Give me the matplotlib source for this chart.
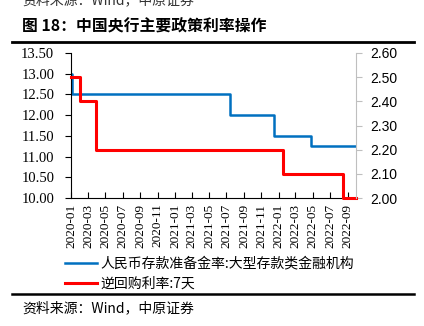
import matplotlib
matplotlib.use("Agg")
import matplotlib.pyplot as plt
import pandas as pd
from matplotlib.lines import Line2D

plt.rcParams['font.family'] = ['Noto Sans CJK SC', 'DejaVu Sans']

# RRR for large deposit institutions (%), step changes
rrr_dates = ["2020-01-01", "2020-01-06", "2021-07-15", "2021-12-15", "2022-04-25", "2022-09-30"]
rrr_values = [13.00, 12.50, 12.00, 11.50, 11.25, 11.25]

# 7-day reverse repo rate (%), step changes
repo_dates = ["2020-01-01", "2020-02-03", "2020-03-30", "2022-01-17", "2022-08-15", "2022-09-30"]
repo_values = [2.50, 2.40, 2.20, 2.10, 2.00, 2.00]

tick_months = pd.date_range("2020-01-01", "2022-09-01", freq="2MS")

rrr_label = "人民币存款准备金率:大型存款类金融机构"
repo_label = "逆回购利率:7天"
title = "图 18：中国央行主要政策利率操作"
source = "资料来源：Wind，中原证券"

blue = "#0070C0"
red = "#FF0000"

fig = plt.figure(figsize=(4.24, 3.26), dpi=100)
ax = fig.add_axes([71 / 424, 128 / 326, 285 / 424, 145 / 326])
ax2 = ax.twinx()

ax.plot(pd.to_datetime(rrr_dates), rrr_values, drawstyle="steps-post", color=blue, lw=1.8)
ax2.plot(pd.to_datetime(repo_dates), repo_values, drawstyle="steps-post", color=red, lw=2.2,
         clip_on=False)

ax.set_xlim(pd.Timestamp("2020-01-01"), pd.Timestamp("2022-09-30"))
ax.set_ylim(10.0, 13.5)
ax.set_yticks([10.0, 10.5, 11.0, 11.5, 12.0, 12.5, 13.0, 13.5])
ax.set_yticklabels([f"{v:.2f}" for v in ax.get_yticks()], family="Liberation Serif", fontsize=10.5)
ax2.set_ylim(2.0, 2.6)
ax2.set_yticks([2.0, 2.1, 2.2, 2.3, 2.4, 2.5, 2.6])
ax2.set_yticklabels([f"{v:.2f}" for v in ax2.get_yticks()], family="Liberation Sans", fontsize=10)

ax.set_xticks(tick_months)
ax.set_xticklabels([d.strftime("%Y-%m") for d in tick_months], rotation=90,
                   family="Liberation Serif", fontsize=9.5)
ax.tick_params(axis="x", direction="in", length=4, width=0.8, pad=4)
ax.tick_params(axis="y", direction="out", length=4, width=0.8, pad=8)
ax2.tick_params(axis="y", direction="out", length=4, width=0.8, color="#bfbfbf", pad=6)

for a in (ax, ax2):
    a.spines["top"].set_visible(False)
ax.spines["right"].set_visible(False)
ax2.spines["left"].set_visible(False)
ax2.spines["bottom"].set_visible(False)
ax2.spines["right"].set_color("#bfbfbf")
ax.spines["left"].set_linewidth(0.8)
ax.spines["bottom"].set_linewidth(0.8)

# legend under the axis
handles = [Line2D([], [], color=blue, lw=1.8), Line2D([], [], color=red, lw=2.2)]
fig.legend(handles, [rrr_label, repo_label], loc="upper left",
           bbox_to_anchor=(59 / 424, 1 - 251 / 326), frameon=False, fontsize=10,
           handlelength=2.3, handletextpad=0.3, labelspacing=0.45, borderaxespad=0)

fig.text(22 / 424, 1 - 26 / 326, title, fontsize=11.4, fontweight="bold", va="center")
fig.text(22 / 424, 1 - 308 / 326, source, fontsize=10, va="center")
fig.text(22 / 424, 1 - 0 / 326, source, fontsize=10, va="center", color="#333333")
fig.add_artist(Line2D([12 / 424, 414 / 424], [1 - 42 / 326] * 2, color="black", lw=2))
fig.add_artist(Line2D([12 / 424, 414 / 424], [1 - 294 / 326] * 2, color="black", lw=1.8))

fig.savefig("out.png", dpi=100)
